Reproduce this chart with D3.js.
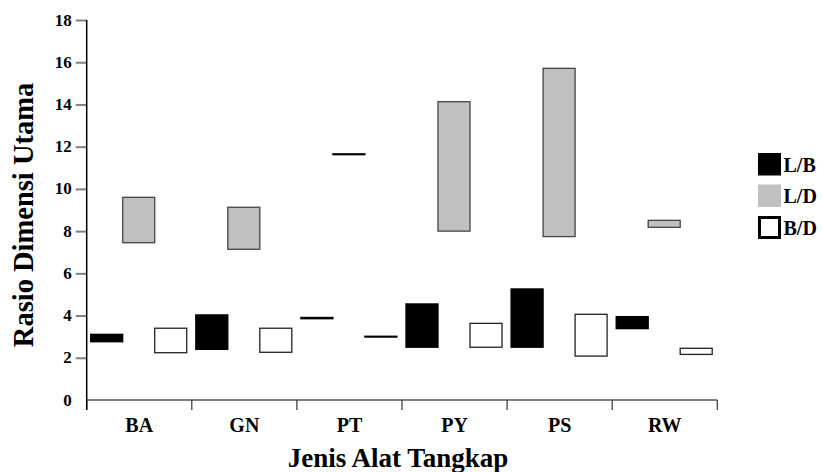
<!DOCTYPE html>
<html>
<head>
<meta charset="utf-8">
<script src="https://cdn.jsdelivr.net/npm/d3@7"></script>
<style>
  body { margin: 0; background: #fff; }
  text { font-family: "Liberation Serif", "Times New Roman", serif; font-weight: bold; fill: #000; }
</style>
</head>
<body>
<script>
var categories = ["BA", "GN", "PT", "PY", "PS", "RW"];
var seriesNames = ["L/B", "L/D", "B/D"];
// low / high ends of each floating bar
var lbLow  = [2.76, 2.40, 3.85, 2.50, 2.50, 3.38];
var lbHigh = [3.11, 4.03, 3.91, 4.55, 5.26, 3.95];
var ldLow  = [7.45, 7.14, 11.62, 8.00, 7.74, 8.18];
var ldHigh = [9.60, 9.13, 11.66, 14.13, 15.71, 8.51];
var bdLow  = [2.24, 2.26, 2.98, 2.50, 2.08, 2.16];
var bdHigh = [3.40, 3.40, 3.02, 3.63, 4.06, 2.45];
var yTicks = [0, 2, 4, 6, 8, 10, 12, 14, 16, 18];

var w = 823, h = 472;
var pad = { left: 86.7, right: 717.3, top: 20, bottom: 400 };

var styles = {
  "L/B": { fill: "#000", stroke: "#000" },
  "L/D": { fill: "#c0c0c0", stroke: "#444" },
  "B/D": { fill: "#fff", stroke: "#222" }
};

var rows = [];
categories.forEach(function (c, i) {
  rows.push({ cat: c, s: "L/B", lo: lbLow[i], hi: lbHigh[i] });
  rows.push({ cat: c, s: "L/D", lo: ldLow[i], hi: ldHigh[i] });
  rows.push({ cat: c, s: "B/D", lo: bdLow[i], hi: bdHigh[i] });
});

var svg = d3.select("body").append("svg")
  .attr("width", w)
  .attr("height", h);

var x0 = d3.scaleBand().domain(categories).range([pad.left, pad.right]);
var x1 = d3.scaleBand().domain(seriesNames).range([4, x0.bandwidth() - 5.1]);
var y = d3.scaleLinear().domain([0, 18]).range([pad.bottom, pad.top]);

// y axis
var yAxis = d3.axisLeft(y).tickValues(yTicks).tickSize(11).tickPadding(4).tickSizeOuter(0);
var gy = svg.append("g")
  .attr("transform", "translate(" + pad.left + ",0)")
  .call(yAxis);
gy.select(".domain").remove();
gy.selectAll(".tick line").attr("stroke", "#808080").attr("stroke-width", 2);
gy.selectAll(".tick").filter(function (d) { return d === 0; }).select("line").remove();
gy.selectAll(".tick text")
  .style("font-size", "17px")
  .attr("dy", "0.3em");

// x axis line and category separators
svg.append("line")
  .attr("x1", pad.left).attr("x2", pad.right)
  .attr("y1", y(0)).attr("y2", y(0))
  .attr("stroke", "#808080").attr("stroke-width", 2);

var bounds = categories.map(function (c) { return x0(c); }).concat([pad.right]);
svg.selectAll(".sep")
  .data(bounds)
  .enter().append("line")
  .attr("class", "sep")
  .attr("x1", function (d) { return d; }).attr("x2", function (d) { return d; })
  .attr("y1", y(0)).attr("y2", y(0) + 10)
  .attr("stroke", "#333").attr("stroke-width", 1.2);

svg.append("line")
  .attr("x1", pad.left).attr("x2", pad.left)
  .attr("y1", y(18)).attr("y2", y(0) + 10)
  .attr("stroke", "#000").attr("stroke-width", 1.5);

var xAxis = d3.axisBottom(x0).tickSize(0).tickPadding(0);
var gx = svg.append("g")
  .attr("transform", "translate(0," + y(0) + ")")
  .call(xAxis);
gx.select(".domain").remove();
gx.selectAll(".tick text")
  .attr("y", 32)
  .attr("dy", 0)
  .style("font-size", "20px");

// bars
svg.selectAll(".bar")
  .data(rows)
  .enter().append("rect")
  .attr("class", "bar")
  .attr("x", function (d) { return x0(d.cat) + x1(d.s); })
  .attr("y", function (d) { return y(d.hi); })
  .attr("width", x1.bandwidth())
  .attr("height", function (d) { return y(d.lo) - y(d.hi); })
  .attr("fill", function (d) { return styles[d.s].fill; })
  .attr("stroke", function (d) { return (d.hi - d.lo) < 0.1 ? "#000" : styles[d.s].stroke; })
  .attr("stroke-width", 1.3);

// titles
svg.append("text")
  .attr("transform", "translate(33," + ((pad.top + pad.bottom) / 2 + 5) + ") rotate(-90)")
  .attr("text-anchor", "middle")
  .style("font-size", "28.5px")
  .text("Rasio Dimensi Utama");

svg.append("text")
  .attr("x", (pad.left + pad.right) / 2 - 4)
  .attr("y", 466.5)
  .attr("text-anchor", "middle")
  .style("font-size", "27px")
  .text("Jenis Alat Tangkap");

// legend
var legend = svg.selectAll(".legend")
  .data(seriesNames)
  .enter().append("g")
  .attr("class", "legend")
  .attr("transform", function (d, i) { return "translate(758," + (153 + i * 31.5) + ")"; });

legend.append("rect")
  .attr("x", function (d) { return d === "B/D" ? 1.5 : 0; })
  .attr("y", function (d) { return d === "B/D" ? 1.5 : 0; })
  .attr("width", function (d) { return d === "B/D" ? 20 : 23; })
  .attr("height", function (d) { return d === "B/D" ? 20 : 22.5; })
  .attr("fill", function (d) { return styles[d].fill; })
  .attr("stroke", function (d) { return d === "B/D" ? "#000" : "none"; })
  .attr("stroke-width", 3);

legend.append("text")
  .attr("x", 25.5)
  .attr("y", 18.5)
  .style("font-size", "20px")
  .text(function (d) { return d; });
</script>
</body>
</html>
